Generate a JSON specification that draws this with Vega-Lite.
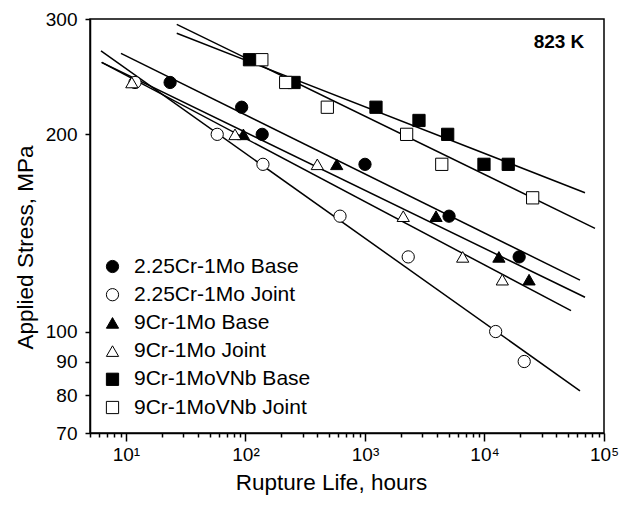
{
  "$schema": "https://vega.github.io/schema/vega-lite/v6.json",
  "width": 514,
  "height": 414,
  "autosize": {"type": "none"},
  "padding": {"left": 90, "top": 19, "right": 19, "bottom": 72},
  "background": "white",
  "config": {
    "font": "Liberation Sans",
    "view": {"stroke": "black", "strokeWidth": 1.5},
    "axis": {
      "domainColor": "black", "domainWidth": 1.5,
      "tickColor": "black", "tickWidth": 1.5,
      "labelColor": "black", "titleColor": "black",
      "labelFont": "Liberation Sans", "titleFont": "Liberation Sans",
      "labelFontSize": 19, "titleFontSize": 22.5, "titleFontWeight": "normal",
      "grid": false
    },
    "legend": {
      "orient": "none", "legendX": 12, "legendY": 237,
      "labelFont": "Liberation Sans", "labelFontSize": 21, "labelColor": "black", "labelLimit": 400,
      "symbolSize": 150, "symbolStrokeWidth": 1,
      "rowPadding": 6.2, "labelOffset": 11, "padding": 0
    }
  },
  "datasets": {
    "pts": [
      {"series": "2.25Cr-1Mo Base", "life": 23.4, "stress": 240},
      {"series": "2.25Cr-1Mo Base", "life": 92.9, "stress": 220},
      {"series": "2.25Cr-1Mo Base", "life": 138, "stress": 200},
      {"series": "2.25Cr-1Mo Base", "life": 1000, "stress": 180},
      {"series": "2.25Cr-1Mo Base", "life": 5050, "stress": 150},
      {"series": "2.25Cr-1Mo Base", "life": 19500, "stress": 130},
      {"series": "2.25Cr-1Mo Joint", "life": 11.9, "stress": 240},
      {"series": "2.25Cr-1Mo Joint", "life": 58, "stress": 200},
      {"series": "2.25Cr-1Mo Joint", "life": 140, "stress": 180},
      {"series": "2.25Cr-1Mo Joint", "life": 618, "stress": 150},
      {"series": "2.25Cr-1Mo Joint", "life": 2300, "stress": 130},
      {"series": "2.25Cr-1Mo Joint", "life": 12400, "stress": 100},
      {"series": "2.25Cr-1Mo Joint", "life": 21500, "stress": 90},
      {"series": "9Cr-1Mo Base", "life": 96, "stress": 200},
      {"series": "9Cr-1Mo Base", "life": 580, "stress": 180},
      {"series": "9Cr-1Mo Base", "life": 3930, "stress": 150},
      {"series": "9Cr-1Mo Base", "life": 13200, "stress": 130},
      {"series": "9Cr-1Mo Base", "life": 23600, "stress": 120},
      {"series": "9Cr-1Mo Joint", "life": 11.2, "stress": 240},
      {"series": "9Cr-1Mo Joint", "life": 81.7, "stress": 200},
      {"series": "9Cr-1Mo Joint", "life": 399, "stress": 180},
      {"series": "9Cr-1Mo Joint", "life": 2090, "stress": 150},
      {"series": "9Cr-1Mo Joint", "life": 6570, "stress": 130},
      {"series": "9Cr-1Mo Joint", "life": 14100, "stress": 120},
      {"series": "9Cr-1MoVNb Base", "life": 108, "stress": 260},
      {"series": "9Cr-1MoVNb Base", "life": 255, "stress": 240},
      {"series": "9Cr-1MoVNb Base", "life": 1236, "stress": 220},
      {"series": "9Cr-1MoVNb Base", "life": 2830, "stress": 210},
      {"series": "9Cr-1MoVNb Base", "life": 4920, "stress": 200},
      {"series": "9Cr-1MoVNb Base", "life": 9900, "stress": 180},
      {"series": "9Cr-1MoVNb Base", "life": 15800, "stress": 180},
      {"series": "9Cr-1MoVNb Joint", "life": 137, "stress": 260},
      {"series": "9Cr-1MoVNb Joint", "life": 217, "stress": 240},
      {"series": "9Cr-1MoVNb Joint", "life": 484, "stress": 220},
      {"series": "9Cr-1MoVNb Joint", "life": 2230, "stress": 200},
      {"series": "9Cr-1MoVNb Joint", "life": 4390, "stress": 180},
      {"series": "9Cr-1MoVNb Joint", "life": 25300, "stress": 160}
    ],
    "fits": [
      {"line": "2.25Cr-1Mo Base", "life": 9.08, "stress": 265.9},
      {"line": "2.25Cr-1Mo Base", "life": 62950, "stress": 119.8},
      {"line": "2.25Cr-1Mo Joint", "life": 6.18, "stress": 268.1},
      {"line": "2.25Cr-1Mo Joint", "life": 62950, "stress": 81.2},
      {"line": "9Cr-1Mo Base", "life": 6.26, "stress": 257.6},
      {"line": "9Cr-1Mo Base", "life": 69340, "stress": 112.8},
      {"line": "9Cr-1Mo Joint", "life": 6.26, "stress": 257.6},
      {"line": "9Cr-1Mo Joint", "life": 52950, "stress": 107.6},
      {"line": "9Cr-1MoVNb Base", "life": 26.6, "stress": 285.3},
      {"line": "9Cr-1MoVNb Base", "life": 69340, "stress": 162.9},
      {"line": "9Cr-1MoVNb Joint", "life": 26.6, "stress": 294.4},
      {"line": "9Cr-1MoVNb Joint", "life": 84100, "stress": 143.7}
    ],
    "note": [
      {"label": "823 K", "life": 42000, "stress": 277}
    ]
  },
  "encoding": {
    "x": {
      "field": "life", "type": "quantitative",
      "scale": {"type": "log", "domain": [5, 100000], "nice": false},
      "axis": {
        "title": "Rupture Life, hours",
        "values": [5,6,7,8,9,10,20,30,40,50,60,70,80,90,100,200,300,400,500,600,700,800,900,1000,2000,3000,4000,5000,6000,7000,8000,9000,10000,20000,30000,40000,50000,60000,70000,80000,90000,100000],
        "labelExpr": "datum.value == 10 ? '10¹' : datum.value == 100 ? '10²' : datum.value == 1000 ? '10³' : datum.value == 10000 ? '10⁴' : datum.value == 100000 ? '10⁵' : ''",
        "labelOverlap": false,
        "labelFlush": false,
        "tickSize": {"condition": {"test": "indexof([10,100,1000,10000,100000], datum.value) >= 0", "value": 8}, "value": 4},
        "labelPadding": 4,
        "titlePadding": 7,
        "titleX": 241
      }
    },
    "y": {
      "field": "stress", "type": "quantitative",
      "scale": {"type": "log", "domain": [70, 300], "nice": false},
      "axis": {
        "title": "Applied Stress, MPa",
        "values": [70, 80, 90, 100, 200, 300],
        "format": "d",
        "tickSize": 5,
        "labelPadding": 8,
        "titlePadding": 8,
        "titleY": 228
      }
    }
  },
  "layer": [
    {
      "data": {"name": "fits"},
      "mark": {"type": "line", "color": "black", "strokeWidth": 1.5, "clip": true},
      "encoding": {"detail": {"field": "line", "type": "nominal"}}
    },
    {
      "data": {"name": "pts"},
      "mark": {"type": "point", "filled": true, "strokeWidth": 1, "size": 150, "opacity": 1},
      "encoding": {
        "shape": {
          "field": "series", "type": "nominal",
          "scale": {
            "domain": ["2.25Cr-1Mo Base", "2.25Cr-1Mo Joint", "9Cr-1Mo Base", "9Cr-1Mo Joint", "9Cr-1MoVNb Base", "9Cr-1MoVNb Joint"],
            "range": ["circle", "circle", "triangle-up", "triangle-up", "square", "square"]
          },
          "legend": {"title": null}
        },
        "fill": {
          "field": "series", "type": "nominal",
          "scale": {
            "domain": ["2.25Cr-1Mo Base", "2.25Cr-1Mo Joint", "9Cr-1Mo Base", "9Cr-1Mo Joint", "9Cr-1MoVNb Base", "9Cr-1MoVNb Joint"],
            "range": ["black", "white", "black", "white", "black", "white"]
          },
          "legend": {"title": null}
        },
        "stroke": {
          "field": "series", "type": "nominal",
          "scale": {
            "domain": ["2.25Cr-1Mo Base", "2.25Cr-1Mo Joint", "9Cr-1Mo Base", "9Cr-1Mo Joint", "9Cr-1MoVNb Base", "9Cr-1MoVNb Joint"],
            "range": ["black", "black", "black", "black", "black", "black"]
          },
          "legend": {"title": null}
        }
      }
    },
    {
      "data": {"name": "note"},
      "mark": {"type": "text", "font": "Liberation Sans", "fontSize": 19, "fontWeight": "bold", "color": "black", "align": "center", "baseline": "middle"},
      "encoding": {"text": {"field": "label", "type": "nominal"}}
    }
  ]
}
